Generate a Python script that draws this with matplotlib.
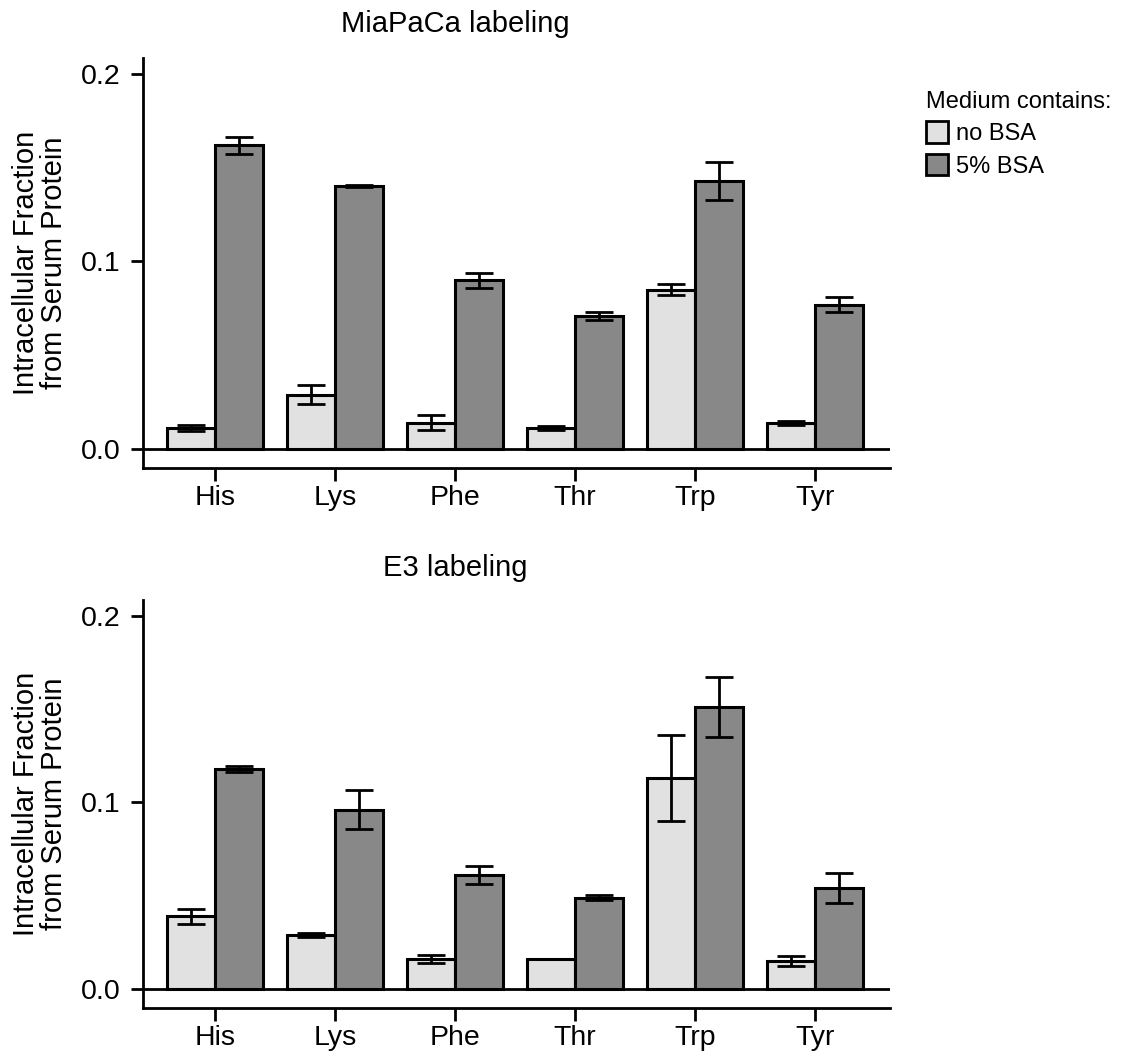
import matplotlib
matplotlib.use("Agg")
import matplotlib.pyplot as plt
import numpy as np
from matplotlib.patches import Patch

plt.rcParams['font.family'] = ['Liberation Sans', 'DejaVu Sans']

amino_acids = ["His", "Lys", "Phe", "Thr", "Trp", "Tyr"]
series_names = ["no BSA", "5% BSA"]

# MiaPaCa labeling
mia_nobsa = [0.011, 0.029, 0.014, 0.011, 0.085, 0.014]
mia_nobsa_err = [0.0015, 0.005, 0.004, 0.001, 0.003, 0.001]
mia_bsa = [0.162, 0.140, 0.090, 0.071, 0.143, 0.077]
mia_bsa_err = [0.0045, 0.0005, 0.004, 0.002, 0.010, 0.004]

# E3 labeling
e3_nobsa = [0.039, 0.029, 0.016, 0.016, 0.113, 0.015]
e3_nobsa_err = [0.004, 0.001, 0.002, 0.0, 0.023, 0.0025]
e3_bsa = [0.118, 0.096, 0.061, 0.049, 0.151, 0.054]
e3_bsa_err = [0.0015, 0.0105, 0.005, 0.0015, 0.016, 0.008]

titles = ["MiaPaCa labeling", "E3 labeling"]
yticks = [0.0, 0.1, 0.2]
ytick_labels = ["0.0", "0.1", "0.2"]
legend_title = "Medium contains:"
ylabel = "Intracellular Fraction\nfrom Serum Protein"

light = "#e0e1e0"
dark = "#878887"

W, H = 1122, 1061
fig = plt.figure(figsize=(W / 100, H / 100), dpi=100)

def fx(px):
    return px / W

def fy(py):
    return 1 - py / H

ax1 = fig.add_axes([fx(143), fy(468), fx(890) - fx(143), fy(58) - fy(468)])
ax2 = fig.add_axes([fx(143), fy(1008), fx(890) - fx(143), fy(600) - fy(1008)])

x = np.arange(len(amino_acids))
bw = 0.4

def draw(ax, a, ae, b, be, title, ty):
    ax.bar(x - bw / 2, a, bw, color=light, edgecolor="black", linewidth=2.2, zorder=2)
    ax.bar(x + bw / 2, b, bw, color=dark, edgecolor="black", linewidth=2.2, zorder=2)
    ax.errorbar(x - bw / 2, a, yerr=ae, fmt="none", ecolor="black", elinewidth=2,
                capsize=10, capthick=2, zorder=3)
    ax.errorbar(x + bw / 2, b, yerr=be, fmt="none", ecolor="black", elinewidth=2,
                capsize=10, capthick=2, zorder=3)
    ax.axhline(0, color="black", linewidth=2, zorder=4)
    ax.set_xlim(-0.6, 5.625)
    ax.set_ylim(-0.0102, 0.2085)
    ax.set_yticks(yticks)
    ax.set_yticklabels(ytick_labels)
    ax.set_xticks(x)
    ax.set_xticklabels(amino_acids)
    ax.tick_params(axis="both", labelsize=20.5, width=2, length=9, color="black")
    ax.tick_params(axis="y", pad=7)
    ax.tick_params(axis="x", pad=3)
    for s in ["top", "right"]:
        ax.spines[s].set_visible(False)
    for s in ["left", "bottom"]:
        ax.spines[s].set_linewidth(2)
    ax.set_ylabel(ylabel, fontsize=21, linespacing=1.0)
    ax.yaxis.set_label_coords(-0.101, 0.5)
    fig.text(fx(455), fy(ty), title, fontsize=21, ha="center", va="baseline")
    return ax

draw(ax1, mia_nobsa, mia_nobsa_err, mia_bsa, mia_bsa_err, titles[0], 32)
draw(ax2, e3_nobsa, e3_nobsa_err, e3_bsa, e3_bsa_err, titles[1], 576)

handles = [Patch(facecolor=light, edgecolor="black", linewidth=2),
           Patch(facecolor=dark, edgecolor="black", linewidth=2)]
leg = fig.legend(handles, series_names, title=legend_title, loc="upper left",
                 bbox_to_anchor=(fx(926), fy(91)), frameon=False, fontsize=17,
                 title_fontsize=17, handlelength=0.95, handleheight=1.05,
                 handletextpad=0.3, labelspacing=0.35, borderaxespad=0, borderpad=0)
leg._legend_box.align = "left"

fig.savefig("out.png", dpi=100)
